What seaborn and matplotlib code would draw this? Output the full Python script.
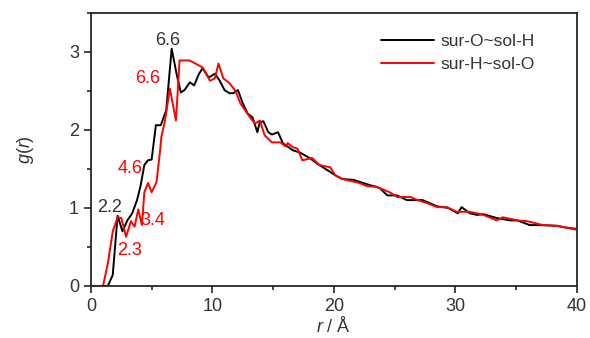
import pandas as pd
import seaborn as sns
import matplotlib.pyplot as plt
from matplotlib.ticker import MultipleLocator

# sur-O~sol-H (black)
r_oh = [0, 1.4, 1.8, 2.2, 2.6, 3.0, 3.4, 3.8, 4.1, 4.4, 4.7, 5.0, 5.35, 5.75, 6.2, 6.65,
        7.05, 7.4, 7.7, 8.15, 8.5, 8.9, 9.2, 9.7, 10.2, 10.6, 11.0, 11.4, 11.7, 12.1, 12.5,
        12.9, 13.3, 13.7, 13.9, 14.2, 14.6, 14.9, 15.4, 15.8, 16.6, 17.2, 18.0, 18.6, 19.1,
        19.7, 20.2, 20.7, 21.6, 22.4, 23.0, 23.5, 23.8, 24.4, 25.2, 26.0, 27.3, 28.5, 29.4,
        30.2, 30.5, 31.2, 31.8, 32.3, 33.4, 34.5, 35.1, 36.1, 37.0, 38.4, 39.0, 40.0]
g_oh = [0, 0, 0.14, 0.90, 0.70, 0.84, 0.93, 1.10, 1.29, 1.55, 1.61, 1.62, 2.06, 2.06, 2.25, 3.04,
        2.72, 2.48, 2.51, 2.61, 2.57, 2.72, 2.79, 2.67, 2.72, 2.63, 2.51, 2.47, 2.47, 2.51, 2.34,
        2.21, 2.16, 1.97, 2.10, 2.11, 1.97, 1.94, 1.97, 1.83, 1.74, 1.71, 1.64, 1.57, 1.52,
        1.46, 1.41, 1.37, 1.36, 1.32, 1.29, 1.27, 1.25, 1.16, 1.16, 1.10, 1.10, 1.02, 1.00,
        0.93, 1.01, 0.93, 0.91, 0.92, 0.87, 0.84, 0.84, 0.78, 0.78, 0.77, 0.75, 0.73]

# sur-H~sol-O (red)
r_ho = [0, 1.0, 1.4, 1.8, 2.2, 2.5, 2.9, 3.3, 3.6, 3.9, 4.2, 4.4, 4.7, 5.0, 5.4, 5.7, 5.8,
        6.1, 6.5, 7.0, 7.3, 8.1, 8.6, 9.2, 9.8, 10.2, 10.5, 10.9, 11.4, 11.9, 12.3, 12.7,
        13.1, 13.5, 13.9, 14.3, 14.9, 15.6, 16.0, 16.2, 16.6, 17.0, 17.4, 18.2, 18.8, 19.7,
        20.1, 20.7, 22.1, 22.7, 23.5, 24.6, 25.2, 26.3, 26.9, 27.7, 28.5, 29.3, 30.1, 31.2,
        32.3, 33.4, 33.9, 35.1, 35.9, 37.2, 38.4, 40.0]
g_ho = [0, 0, 0.29, 0.70, 0.88, 0.87, 0.63, 0.83, 0.76, 0.98, 0.78, 1.20, 1.32, 1.20, 1.33, 1.74, 1.91,
        2.12, 2.53, 2.12, 2.89, 2.89, 2.85, 2.80, 2.63, 2.66, 2.85, 2.66, 2.60, 2.50, 2.34, 2.25,
        2.16, 2.08, 2.12, 1.93, 1.84, 1.84, 1.79, 1.83, 1.78, 1.76, 1.61, 1.64, 1.55, 1.52,
        1.42, 1.37, 1.32, 1.28, 1.27, 1.20, 1.14, 1.14, 1.10, 1.06, 1.01, 1.01, 0.95, 0.95,
        0.91, 0.84, 0.88, 0.84, 0.83, 0.78, 0.77, 0.72]

# peak labels: text, r, g, colour
labels = [("6.6", 6.34, 3.15, "#333333"), ("6.6", 4.7, 2.66, "red"),
          ("4.6", 3.2, 1.51, "red"), ("2.2", 1.56, 1.01, "#333333"),
          ("3.4", 5.1, 0.84, "red"), ("2.3", 3.2, 0.46, "red")]

df = pd.concat([
    pd.DataFrame({"r": r_oh, "g": g_oh, "pair": "sur-O~sol-H"}),
    pd.DataFrame({"r": r_ho, "g": g_ho, "pair": "sur-H~sol-O"}),
])

sns.set_style("ticks")
plt.rcParams["font.family"] = ["Liberation Sans", "DejaVu Sans"]
plt.rcParams["mathtext.fontset"] = "custom"
plt.rcParams["mathtext.it"] = "Liberation Sans:italic"

fig = plt.figure(figsize=(5.9, 3.38), dpi=100)
ax = fig.add_axes([0.154, 0.154, 0.824, 0.808])

sns.lineplot(data=df, x="r", y="g", hue="pair", palette=["black", "red"],
             estimator=None, sort=False, linewidth=1.4, ax=ax)

for txt, x, y, c in labels:
    ax.text(x, y, txt, color=c, fontsize=13, ha="center", va="center")

ax.set_xlim(0, 40)
ax.set_ylim(0, 3.5)
ax.xaxis.set_major_locator(MultipleLocator(10))
ax.xaxis.set_minor_locator(MultipleLocator(5))
ax.yaxis.set_major_locator(MultipleLocator(1))
ax.yaxis.set_minor_locator(MultipleLocator(0.5))
ax.tick_params(which="major", direction="out", length=5, width=1.2, labelsize=13,
               labelcolor="#333333")
ax.tick_params(which="minor", direction="out", length=3, width=1.2)
for s in ax.spines.values():
    s.set_linewidth(1.3)

ax.set_xlabel("$r$ / Å", fontsize=13, color="#333333", labelpad=1)
ax.set_ylabel("$g$($r$)", fontsize=13, color="#333333", labelpad=24)

leg = ax.legend(loc="upper right", frameon=False, fontsize=12.5, handlelength=3.1,
                handletextpad=0.35, labelspacing=0.45, bbox_to_anchor=(0.945, 0.98))
for t in leg.get_texts():
    t.set_color("#333333")

fig.savefig("out.png", dpi=100)
